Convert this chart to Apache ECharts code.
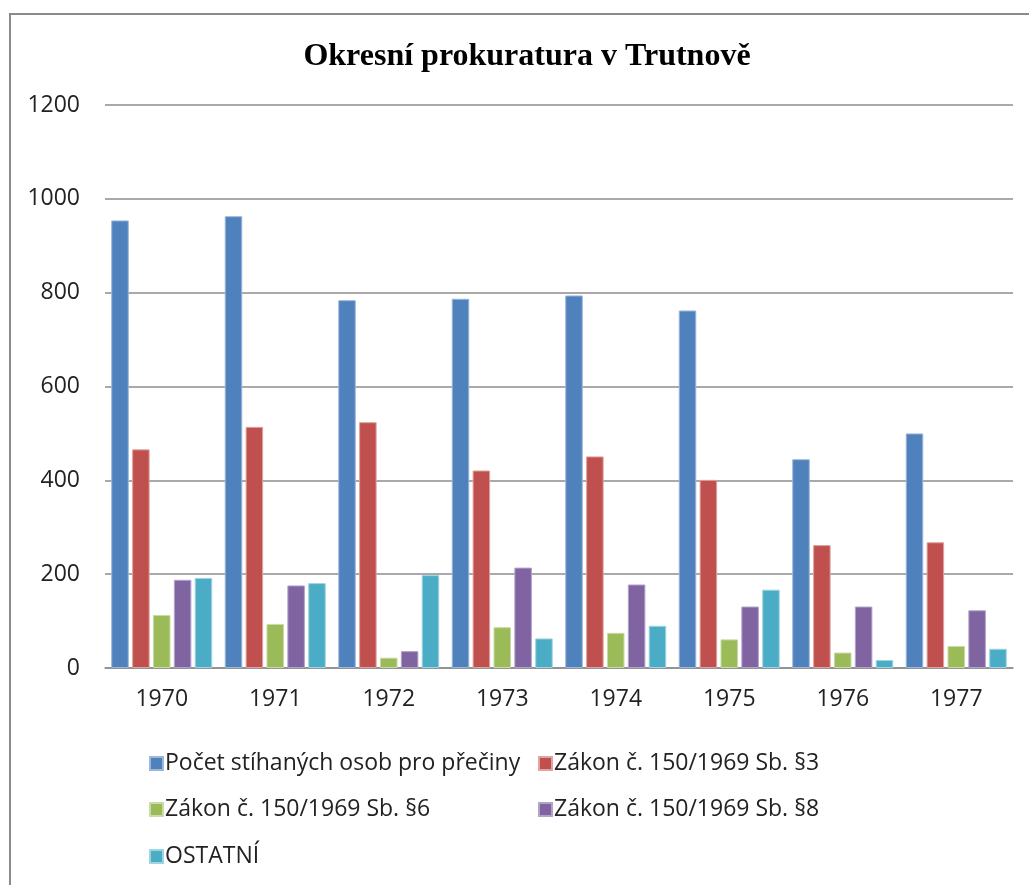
<!DOCTYPE html>
<html><head><meta charset="utf-8">
<script src="https://cdn.jsdelivr.net/npm/echarts@6/dist/echarts.min.js"></script>
<style>html,body{margin:0;padding:0;background:#fff}#c{width:1029px;height:885px}</style>
</head><body><div id="c"></div>
<script>
const categories = ['1970','1971','1972','1973','1974','1975','1976','1977'];
const seriesNames = ['Počet stíhaných osob pro přečiny','Zákon č. 150/1969 Sb. §3','Zákon č. 150/1969 Sb. §6','Zákon č. 150/1969 Sb. §8','OSTATNÍ'];
const pocet = [954, 963, 784, 787, 794, 762, 445, 500];
const par3 = [466, 514, 524, 421, 451, 401, 262, 268];
const par6 = [113, 94, 22, 87, 75, 61, 33, 47];
const par8 = [188, 176, 36, 214, 178, 131, 131, 123];
const ostatni = [192, 181, 198, 63, 90, 167, 17, 41];
const yTicks = [0, 200, 400, 600, 800, 1000, 1200];
const colors = ['#4F81BD','#C0504D','#9BBB59','#8064A2','#4BACC6'];
const borders = ['#9DB6DA','#DFA3A1','#C9DBA8','#B3A3C8','#A0D4E2'];

const values = [pocet, par3, par6, par8, ostatni];
const font = "'Open Sans', 'DejaVu Sans', sans-serif";
const chart = echarts.init(document.getElementById('c'));
const legendPos = [[144,747],[533,747],[144,793],[533,793],[144,840]];
chart.setOption({
  animation: false,
  title: {text: 'Okresní prokuratura v Trutnově', left: 522, top: 36, textAlign: 'center',
    textStyle: {fontFamily: "'Liberation Serif', 'Times New Roman', serif", fontWeight: 'bold', fontSize: 32, color: '#000'}},
  graphic: [{type: 'rect', shape: {x: 10, y: 14, width: 1100, height: 1000},
    style: {fill: 'none', stroke: '#8a8a8a', lineWidth: 2}, silent: true}],
  legend: seriesNames.map((n, i) => ({
    data: [n], left: legendPos[i][0], top: legendPos[i][1], itemWidth: 13, itemHeight: 13,
    icon: 'rect', itemGap: 0,
    textStyle: {fontFamily: font, fontSize: 23, color: '#222', padding: [0,0,0,-3]}
  })),
  grid: {left: 105, right: 16, top: 105, bottom: 217},
  xAxis: {type: 'category', data: categories,
    axisLine: {lineStyle: {color: '#8c8c8c', width: 1.5}}, axisTick: {show: false},
    axisLabel: {fontFamily: font, fontSize: 23, color: '#222', margin: 20}},
  yAxis: {type: 'value', min: 0, max: 1200, interval: 200,
    axisLine: {show: false}, axisTick: {show: false},
    splitLine: {lineStyle: {color: '#8c8c8c', width: 1.5}},
    axisLabel: {fontFamily: font, fontSize: 23, color: '#222', margin: 25,
      formatter: v => yTicks.includes(v) ? String(v) : ''}},
  series: seriesNames.map((n, i) => ({
    name: n, type: 'bar', data: values[i], barGap: '19%', barCategoryGap: '11%',
    itemStyle: {color: colors[i], borderColor: borders[i], borderWidth: 1}
  }))
});
</script></body></html>
